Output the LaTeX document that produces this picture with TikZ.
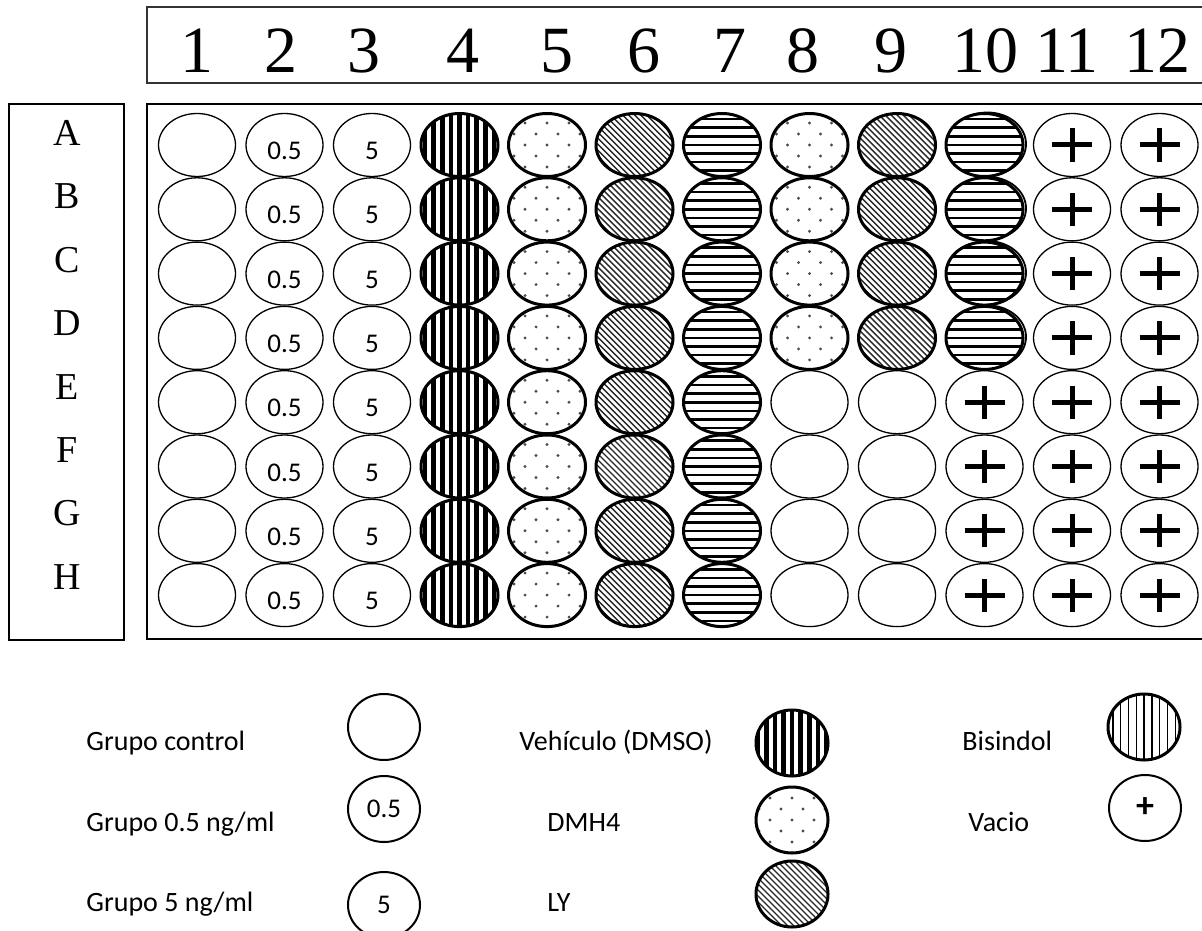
\documentclass[tikz,border=0pt]{standalone}
\usepackage{fontspec}
\setmainfont{Liberation Serif}
\newfontfamily\calibri{Carlito}
\usetikzlibrary{shapes.geometric}

\begin{document}
\begin{tikzpicture}[x=0.5pt,y=-0.5pt,
  well/.style={ellipse,draw,line width=0.65pt,minimum width=38.5pt,minimum height=31.5pt,inner sep=0pt},
  fat/.style={line width=1.5pt,fill=white},
  dmso/.style={fat,path picture={\foreach \d in {-5,...,5}
    \draw[line width=2.3pt] ([xshift={\d*4.3pt}]path picture bounding box.north) -- ([xshift={\d*4.3pt}]path picture bounding box.south);}},
  hz/.style={fat,path picture={\foreach \d in {-3,...,3}
    \draw[line width=1.3pt] ([yshift={\d*4.3pt}]path picture bounding box.west) -- ([yshift={\d*4.3pt}]path picture bounding box.east);}},
  ly/.style={fat,path picture={\foreach \d in {-13,...,13}
    \draw[line width=0.7pt,black!85] ([shift={({\d*3pt-20pt},20pt)}]path picture bounding box.center) -- ([shift={({\d*3pt+20pt},-20pt)}]path picture bounding box.center);}},
  dmh/.style={fat,path picture={\foreach \i in {-2,0,2} \foreach \j in {-2,...,2}
      \fill[black!70] ([shift={({\j*11pt},{\i*5.5pt})}]path picture bounding box.center) circle[radius=0.8pt];
    \foreach \i in {-3,-1,1,3} \foreach \j in {-2,...,1}
      \fill[black!70] ([shift={({(\j+0.5)*11pt},{\i*5.5pt})}]path picture bounding box.center) circle[radius=0.8pt];}},
  bis/.style={fat,path picture={\foreach \d in {-4,...,4}
    \draw[line width=0.7pt] ([xshift={\d*3.9pt}]path picture bounding box.north) -- ([xshift={\d*3.9pt}]path picture bounding box.south);}},
  vac/.style={path picture={\draw[line width=2.5pt] ([xshift=-10pt]path picture bounding box.center) -- ([xshift=10pt]path picture bounding box.center);
    \draw[line width=2.5pt] ([yshift=-8.3pt]path picture bounding box.center) -- ([yshift=8.3pt]path picture bounding box.center);}},
  thin/.style={},
  wtxt/.style={font=\calibri\fontsize{13.5}{16}\selectfont,yshift=-3pt},
  digit/.style={font=\fontsize{33}{38}\selectfont,inner sep=0pt},
  letter/.style={font=\fontsize{19}{22}\selectfont,inner sep=0pt},
  lgtxt/.style={font=\calibri\fontsize{14}{17}\selectfont,anchor=base west,inner sep=0pt},
  lg/.style={ellipse,draw,line width=1pt,minimum width=36pt,minimum height=33pt,inner sep=0pt,font=\calibri\fontsize{13.5}{16}\selectfont}]
\useasboundingbox (0,0) rectangle (1202,930);

% column numbers
\draw[line width=0.65pt,black!80] (147,7) rectangle (1215,83);
\foreach \n/\x in {1/197,2/281,3/364,4/463,5/557,6/644,7/730,8/803,9/891,10/985,11/1067,12/1157}
  \node[digit] (c\n) at (\x,51) {\n};

% row letters
\draw[line width=0.75pt] (9,104) rectangle (124,640);
\foreach \r [count=\i] in {A,...,H} \node[letter] (l\r) at (67,{133+63.4*(\i-1)}) {\r};

% plate
\draw[line width=1pt] (147,104) rectangle (1215,639);
\foreach \r [count=\i] in {A,B,C,D}
  \draw[line width=0.9pt] ({197+87.5*9+3},{145+64.3*(\i-1)-1}) ellipse [x radius=19.25pt,y radius=15.75pt];
\foreach \c/\k/\t in {1/thin/,2/thin/0.5,3/thin/5,4/dmso/,5/dmh/,6/ly/,7/hz/,11/vac/,12/vac/}
  \foreach \r [count=\i] in {A,...,H}
    \node[well,\k,label={[wtxt]center:\t}] (\r\c) at ({197+87.5*(\c-1)},{145+64.3*(\i-1)}) {};
\foreach \c/\k in {8/dmh,9/ly,10/hz}
  \foreach \r [count=\i] in {A,B,C,D} \node[well,\k] (\r\c) at ({197+87.5*(\c-1)},{145+64.3*(\i-1)}) {};
\foreach \c/\k in {8/thin,9/thin,10/vac}
  \foreach \r [count=\i from 5] in {E,F,G,H} \node[well,\k] (\r\c) at ({197+87.5*(\c-1)},{145+64.3*(\i-1)}) {};

% legend
\node[lgtxt] (tctrl) at (86,750) {Grupo control}; \node[lg] (kctrl) at (384,727) {};
\node[lgtxt] (tlow) at (86,831) {Grupo 0.5 ng/ml}; \node[lg] (klow) at (384,809) {0.5};
\node[lgtxt] (thigh) at (86,911) {Grupo 5 ng/ml}; \node[lg] (khigh) at (384,905) {5};
\node[lgtxt] (tdmso) at (519,750) {Vehículo (DMSO)}; \node[lg,dmso] (kdmso) at (792,743) {};
\node[lgtxt] (tdmh) at (547,831) {DMH4}; \node[lg,dmh] (kdmh) at (792,820) {};
\node[lgtxt] (tly) at (547,911) {LY}; \node[lg,ly] (kly) at (792,894) {};
\node[lgtxt] (tbis) at (962,750) {Bisindol}; \node[lg,bis] (kbis) at (1144,727) {};
\node[lgtxt] (tvac) at (968,831) {Vacio}; \node[lg] (kvac) at (1145,808) {\fontsize{18}{20}\selectfont\bfseries +};
\end{tikzpicture}
\end{document}
